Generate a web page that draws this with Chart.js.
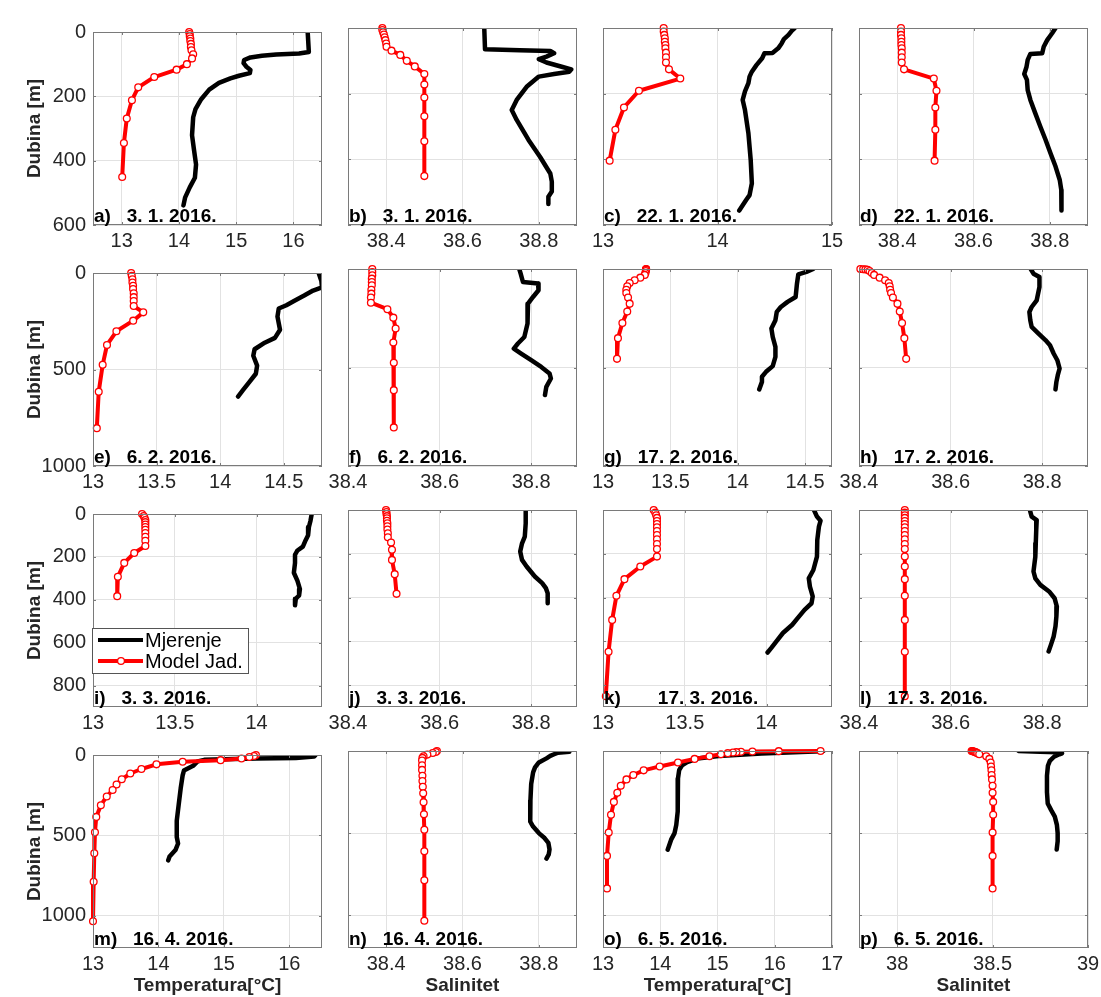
<!DOCTYPE html>
<html lang="hr">
<head>
<meta charset="UTF-8">
<title>Profili temperature i saliniteta</title>
<script src="https://cdn.jsdelivr.net/npm/chart.js@4.4.1/dist/chart.umd.min.js"></script>
<style>
  body { margin: 0; background: #fff; width: 1101px; height: 997px; overflow: hidden; position: relative; }
  canvas { position: absolute; }
</style>
</head>
<body>
<script>
// 3. 1. 2016. (a, b)
const modDepth1 = [0, 6, 13, 20, 28, 37, 47, 57, 69, 82, 100, 117, 140, 172, 212, 269, 345, 451];
const modTemp1 = [14.18, 14.19, 14.19, 14.2, 14.2, 14.21, 14.21, 14.22, 14.25, 14.23, 14.14, 13.96, 13.57, 13.29, 13.18, 13.09, 13.04, 13.01];
const modSal1 = [38.39, 38.39, 38.392, 38.394, 38.396, 38.398, 38.4, 38.401, 38.414, 38.437, 38.454, 38.475, 38.5, 38.5, 38.5, 38.5, 38.5, 38.5];
const mjTempDepth1 = [0, 62, 67, 70, 74, 79, 87, 97, 108, 118, 128, 136, 144, 158, 179, 209, 240, 265, 321, 361, 412, 453, 483, 514, 539];
const mjTemp1 = [16.25, 16.27, 16.1, 15.7, 15.45, 15.25, 15.14, 15.13, 15.18, 15.25, 15.24, 15.05, 14.9, 14.7, 14.53, 14.39, 14.29, 14.25, 14.23, 14.26, 14.3, 14.28, 14.19, 14.11, 14.08];
const mjSalDepth1 = [0, 65, 68, 70, 77, 87, 95, 105, 118, 126, 133, 140, 148, 179, 219, 250, 280, 341, 392, 443, 468, 498, 514, 536];
const mjSal1 = [38.657, 38.659, 38.75, 38.83, 38.84, 38.82, 38.8, 38.82, 38.86, 38.885, 38.88, 38.84, 38.8, 38.768, 38.742, 38.729, 38.742, 38.773, 38.803, 38.83, 38.834, 38.834, 38.825, 38.825];

// 22. 1. 2016. (c, d)
const modDepth2 = [0, 11, 21, 31, 42, 52, 62, 75, 89, 105, 126, 154, 191, 242, 310, 404];
const modTemp2 = [13.53, 13.53, 13.535, 13.54, 13.54, 13.545, 13.545, 13.55, 13.55, 13.55, 13.576, 13.675, 13.314, 13.183, 13.108, 13.058];
const modSal2 = [38.41, 38.41, 38.41, 38.411, 38.411, 38.411, 38.412, 38.412, 38.412, 38.412, 38.418, 38.496, 38.503, 38.5, 38.5, 38.498];
const mjTempDepth2 = [0, 8, 21, 34, 47, 62, 76, 77, 92, 113, 133, 148, 168, 193, 219, 250, 321, 402, 473, 509, 524, 556];
const mjTemp2 = [14.674, 14.65, 14.62, 14.58, 14.56, 14.53, 14.48, 14.41, 14.39, 14.34, 14.3, 14.28, 14.27, 14.24, 14.22, 14.24, 14.27, 14.29, 14.3, 14.28, 14.25, 14.19];
const mjSalDepth2 = [0, 16, 37, 57, 77, 79, 97, 118, 140, 158, 189, 219, 260, 300, 341, 382, 422, 463, 493, 524, 556];
const mjSal2 = [38.815, 38.806, 38.793, 38.784, 38.78, 38.749, 38.742, 38.739, 38.733, 38.74, 38.742, 38.749, 38.762, 38.775, 38.789, 38.802, 38.815, 38.826, 38.83, 38.831, 38.83];

// 6. 2. 2016. (e, f)
const modDepth3 = [0, 15, 32, 49, 66, 83, 105, 125, 145, 171, 204, 247, 302, 373, 476, 615, 804];
const modTemp3 = [13.3, 13.305, 13.31, 13.31, 13.315, 13.315, 13.32, 13.32, 13.32, 13.32, 13.395, 13.316, 13.184, 13.11, 13.076, 13.045, 13.03];
const modSal3 = [38.453, 38.453, 38.453, 38.452, 38.452, 38.452, 38.451, 38.451, 38.45, 38.45, 38.486, 38.499, 38.504, 38.499, 38.5, 38.5, 38.5];
const mjTempDepth3 = [0, 41, 74, 91, 117, 145, 167, 184, 226, 294, 336, 361, 395, 429, 480, 522, 564, 606, 640];
const mjTemp3 = [14.774, 14.795, 14.8, 14.73, 14.66, 14.58, 14.52, 14.46, 14.45, 14.47, 14.43, 14.35, 14.27, 14.26, 14.29, 14.28, 14.23, 14.18, 14.14];
const mjSalDepth3 = [0, 24, 66, 74, 108, 142, 176, 218, 277, 345, 378, 404, 429, 463, 497, 530, 556, 598, 640];
const mjSal3 = [38.774, 38.777, 38.782, 38.815, 38.816, 38.804, 38.793, 38.791, 38.793, 38.785, 38.771, 38.762, 38.778, 38.8, 38.822, 38.84, 38.843, 38.833, 38.83];

// 17. 2. 2016. (g, h)
const modDepth4 = [0, 1, 2, 4, 10, 20, 30, 44, 57, 71, 88, 105, 122, 145, 176, 216, 274, 351, 456];
const modTemp4 = [13.32, 13.32, 13.32, 13.32, 13.318, 13.315, 13.31, 13.277, 13.235, 13.198, 13.18, 13.173, 13.173, 13.186, 13.198, 13.18, 13.144, 13.111, 13.104];
const modSal4 = [38.403, 38.409, 38.414, 38.419, 38.423, 38.428, 38.433, 38.445, 38.457, 38.465, 38.467, 38.468, 38.47, 38.474, 38.484, 38.489, 38.494, 38.499, 38.503];
const mjTempDepth4 = [0, 15, 27, 74, 142, 167, 193, 218, 260, 302, 345, 395, 446, 493, 522, 547, 573, 611];
const mjTemp4 = [14.56, 14.51, 14.45, 14.44, 14.43, 14.37, 14.32, 14.29, 14.28, 14.25, 14.26, 14.28, 14.28, 14.26, 14.21, 14.18, 14.18, 14.16];
const mjSalDepth4 = [0, 24, 41, 91, 159, 193, 218, 260, 294, 328, 361, 387, 429, 463, 505, 539, 573, 611];
const mjSal4 = [38.775, 38.781, 38.794, 38.794, 38.788, 38.777, 38.772, 38.774, 38.777, 38.792, 38.807, 38.817, 38.825, 38.833, 38.838, 38.834, 38.831, 38.829];

// 3. 3. 2016. (i, j)
const modDepth5 = [0, 9, 18, 28, 38, 49, 61, 74, 89, 106, 125, 149, 182, 228, 293, 383];
const modTemp5 = [13.3, 13.31, 13.315, 13.32, 13.32, 13.32, 13.32, 13.32, 13.32, 13.32, 13.32, 13.32, 13.252, 13.191, 13.152, 13.148];
const modSal5 = [38.483, 38.484, 38.484, 38.485, 38.485, 38.485, 38.486, 38.486, 38.486, 38.487, 38.487, 38.494, 38.496, 38.496, 38.502, 38.506];
const mjTempDepth5 = [0, 30, 61, 99, 122, 152, 170, 190, 228, 274, 312, 350, 380, 395, 426];
const mjTemp5 = [14.337, 14.33, 14.32, 14.315, 14.3, 14.283, 14.25, 14.235, 14.235, 14.228, 14.25, 14.265, 14.26, 14.24, 14.235];
const mjSalDepth5 = [0, 61, 122, 152, 190, 228, 258, 304, 334, 357, 380, 426];
const mjSal5 = [38.788, 38.788, 38.786, 38.78, 38.776, 38.78, 38.79, 38.808, 38.824, 38.832, 38.836, 38.836];

// 17. 3. 2016. (k, l)
const modDepth6 = [0, 12, 24, 36, 50, 64, 79, 96, 114, 134, 155, 178, 213, 258, 316, 392, 502, 648, 851];
const modTemp6 = [13.31, 13.32, 13.325, 13.33, 13.33, 13.33, 13.33, 13.33, 13.33, 13.33, 13.33, 13.33, 13.33, 13.228, 13.131, 13.082, 13.056, 13.034, 13.017];
const modSal6 = [38.5, 38.5, 38.5, 38.5, 38.5, 38.5, 38.5, 38.5, 38.5, 38.5, 38.5, 38.5, 38.5, 38.5, 38.5, 38.5, 38.5, 38.5, 38.5];
const mjTempDepth6 = [0, 30, 49, 76, 137, 213, 274, 312, 350, 395, 426, 456, 494, 524, 562, 600, 631, 651];
const mjTemp6 = [14.29, 14.308, 14.33, 14.32, 14.31, 14.308, 14.286, 14.258, 14.265, 14.282, 14.275, 14.232, 14.19, 14.157, 14.1, 14.06, 14.028, 14.006];
const mjSalDepth6 = [0, 30, 46, 91, 152, 213, 281, 312, 342, 372, 403, 441, 486, 532, 578, 616, 646];
const mjSal6 = [38.773, 38.777, 38.788, 38.787, 38.786, 38.785, 38.781, 38.785, 38.796, 38.815, 38.827, 38.832, 38.831, 38.829, 38.825, 38.819, 38.814];

// 16. 4. 2016. (m, n)
const modDepth7 = [0, 6, 12, 22, 32, 42, 58, 87, 115, 151, 183, 218, 258, 312, 385, 480, 611, 788, 1034];
const modTemp7 = [15.49, 15.46, 15.39, 15.27, 14.95, 14.37, 13.97, 13.74, 13.57, 13.44, 13.36, 13.3, 13.21, 13.12, 13.05, 13.03, 13.02, 13.01, 13.0];
const modSal7 = [38.533, 38.53, 38.522, 38.508, 38.498, 38.495, 38.494, 38.494, 38.494, 38.495, 38.495, 38.496, 38.497, 38.498, 38.499, 38.5, 38.5, 38.5, 38.5];
const mjTempDepth7 = [0, 10, 18, 22, 26, 30, 40, 67, 97, 127, 208, 308, 409, 510, 550, 591, 631, 655];
const mjTemp7 = [16.4, 16.38, 16.1, 15.5, 15.0, 14.7, 14.6, 14.53, 14.39, 14.37, 14.34, 14.31, 14.28, 14.28, 14.3, 14.26, 14.17, 14.15];
const mjSalDepth7 = [0, 5, 10, 20, 30, 45, 70, 100, 130, 200, 300, 400, 430, 460, 500, 530, 560, 600, 630, 655];
const mjSal7 = [38.86, 38.88, 38.85, 38.84, 38.83, 38.82, 38.8, 38.79, 38.785, 38.78, 38.778, 38.777, 38.778, 38.785, 38.8, 38.815, 38.825, 38.828, 38.826, 38.82];

// 6. 5. 2016. (o, p)
const modDepth8 = [0, 1, 3, 5, 7, 9, 13, 20, 32, 48, 70, 94, 118, 146, 173, 212, 254, 310, 389, 496, 639, 837];
const modTemp8 = [16.8, 16.07, 15.61, 15.41, 15.33, 15.27, 15.18, 15.06, 14.86, 14.6, 14.31, 13.99, 13.71, 13.53, 13.41, 13.31, 13.25, 13.19, 13.14, 13.1, 13.07, 13.07];
const modSal8 = [38.39, 38.395, 38.4, 38.405, 38.41, 38.415, 38.42, 38.43, 38.467, 38.483, 38.49, 38.492, 38.494, 38.495, 38.497, 38.5, 38.5, 38.503, 38.503, 38.5, 38.5, 38.5];
const mjTempDepth8 = [0, 2, 16, 30, 46, 67, 87, 117, 167, 268, 369, 450, 500, 540, 601];
const mjTemp8 = [16.85, 16.81, 15.77, 15.02, 14.65, 14.47, 14.38, 14.33, 14.31, 14.31, 14.3, 14.28, 14.25, 14.19, 14.13];
const mjSalDepth8 = [0, 4, 8, 14, 20, 35, 60, 90, 150, 250, 320, 360, 400, 450, 500, 550, 600];
const mjSal8 = [38.636, 38.748, 38.841, 38.864, 38.85, 38.822, 38.8, 38.79, 38.785, 38.785, 38.789, 38.807, 38.826, 38.837, 38.841, 38.841, 38.836];

// panel texts and axes (a..p)
const panelLabels = [
  'a)   3. 1. 2016.', 'b)   3. 1. 2016.', 'c)   22. 1. 2016.', 'd)   22. 1. 2016.',
  'e)   6. 2. 2016.', 'f)   6. 2. 2016.', 'g)   17. 2. 2016.', 'h)   17. 2. 2016.',
  'i)   3. 3. 2016.', 'j)   3. 3. 2016.', 'k)       17. 3. 2016.', 'l)   17. 3. 2016.',
  'm)   16. 4. 2016.', 'n)   16. 4. 2016.', 'o)   6. 5. 2016.', 'p)   6. 5. 2016.'
];
const xMin = [12.5, 38.3, 13, 38.3, 13, 38.4, 13, 38.4, 13, 38.4, 13, 38.4, 13, 38.3, 13, 37.8];
const xMax = [16.5, 38.9, 15, 38.9, 14.8, 38.9, 14.7, 38.9, 14.4, 38.9, 14.4, 38.9, 16.5, 38.9, 17, 39];
const tempTicksA = [13, 14, 15, 16];
const tempTicksC = [13, 14, 15];
const tempTicksE = [13, 13.5, 14, 14.5];
const tempTicksI = [13, 13.5, 14];
const tempTicksO = [13, 14, 15, 16, 17];
const salTicks = [38.4, 38.6, 38.8];
const salTicksP = [38, 38.5, 39];
const xTicks = [
  tempTicksA, salTicks, tempTicksC, salTicks,
  tempTicksE, salTicks, tempTicksE, salTicks,
  tempTicksI, salTicks, tempTicksI, salTicks,
  tempTicksA, salTicks, tempTicksO, salTicksP
];
const depthMax = [600, 1000, 900, 1200];
const depthTicks = [[0, 200, 400, 600], [0, 500, 1000], [0, 200, 400, 600, 800], [0, 500, 1000]];
const legendLabels = ['Mjerenje', 'Model Jad.'];

const mjDepths = [mjTempDepth1, mjSalDepth1, mjTempDepth2, mjSalDepth2, mjTempDepth3, mjSalDepth3, mjTempDepth4, mjSalDepth4,
                  mjTempDepth5, mjSalDepth5, mjTempDepth6, mjSalDepth6, mjTempDepth7, mjSalDepth7, mjTempDepth8, mjSalDepth8];
const mjValues = [mjTemp1, mjSal1, mjTemp2, mjSal2, mjTemp3, mjSal3, mjTemp4, mjSal4,
                  mjTemp5, mjSal5, mjTemp6, mjSal6, mjTemp7, mjSal7, mjTemp8, mjSal8];
const modDepths = [modDepth1, modDepth1, modDepth2, modDepth2, modDepth3, modDepth3, modDepth4, modDepth4,
                   modDepth5, modDepth5, modDepth6, modDepth6, modDepth7, modDepth7, modDepth8, modDepth8];
const modValues = [modTemp1, modSal1, modTemp2, modSal2, modTemp3, modSal3, modTemp4, modSal4,
                   modTemp5, modSal5, modTemp6, modSal6, modTemp7, modSal7, modTemp8, modSal8];

// layout
const FONT = "'Liberation Sans', Arial, Helvetica, sans-serif";
const colLeft = [93, 348, 603, 859];
const rowTop = [28, 269, 510, 751];
const plotW = 229, plotH = 197;
const padT = 15, padR = 25;
const boxColor = '#7a7a7a';
const gridColor = '#e2e2e2';

Chart.defaults.font.family = FONT;

const framePlugin = {
  id: 'frame',
  afterDraw(chart, args, opts) {
    const { ctx, chartArea: a, scales: { x, y } } = chart;
    ctx.save();
    ctx.strokeStyle = boxColor;
    ctx.lineWidth = 1;
    ctx.strokeRect(a.left + 0.5, a.top + 0.5, a.right - a.left - 1, a.bottom - a.top - 1);
    ctx.beginPath();
    x.ticks.forEach(t => {
      const px = Math.round(x.getPixelForValue(t.value)) + 0.5;
      ctx.moveTo(px, a.bottom); ctx.lineTo(px, a.bottom - 3);
      ctx.moveTo(px, a.top); ctx.lineTo(px, a.top + 3);
    });
    y.ticks.forEach(t => {
      const py = Math.round(y.getPixelForValue(t.value)) + 0.5;
      ctx.moveTo(a.left, py); ctx.lineTo(a.left + 3, py);
      ctx.moveTo(a.right, py); ctx.lineTo(a.right - 3, py);
    });
    ctx.stroke();

    // panel label
    ctx.fillStyle = '#000';
    ctx.font = 'bold 19px ' + FONT;
    ctx.textBaseline = 'alphabetic';
    ctx.textAlign = 'left';
    ctx.fillText(opts.label, a.left + 1, a.bottom - 3);

    if (opts.legend) {
      const lx = a.left - 1, ly = a.top + 114, lw = 156, lh = 45;
      ctx.fillStyle = '#fff';
      ctx.fillRect(lx, ly, lw, lh);
      ctx.strokeStyle = '#555';
      ctx.lineWidth = 1;
      ctx.strokeRect(lx + 0.5, ly + 0.5, lw, lh);
      const colors = ['#000', '#ff0000'];
      legendLabels.forEach((txt, k) => {
        const cy = ly + 12 + k * 21;
        ctx.strokeStyle = colors[k];
        ctx.lineWidth = 4;
        ctx.beginPath(); ctx.moveTo(lx + 6, cy); ctx.lineTo(lx + 51, cy); ctx.stroke();
        if (k === 1) {
          ctx.beginPath(); ctx.arc(lx + 29, cy, 3.4, 0, Math.PI * 2);
          ctx.fillStyle = '#fff'; ctx.fill();
          ctx.lineWidth = 1.3; ctx.strokeStyle = colors[k]; ctx.stroke();
        }
        ctx.fillStyle = '#000';
        ctx.font = '20px ' + FONT;
        ctx.textBaseline = 'middle';
        ctx.fillText(txt, lx + 53, cy + 1);
      });
    }
    ctx.restore();
  }
};

function pts(vals, depths) {
  return vals.map((v, k) => ({ x: v, y: depths[k] }));
}

for (let i = 0; i < 16; i++) {
  const row = Math.floor(i / 4), col = i % 4;
  const padL = col === 0 ? 93 : 25;
  const padB = row === 3 ? 49 : 34;
  const canvas = document.createElement('canvas');
  canvas.width = padL + plotW + padR;
  canvas.height = padT + plotH + padB;
  canvas.style.left = (colLeft[col] - padL) + 'px';
  canvas.style.top = (rowTop[row] - padT) + 'px';
  document.body.appendChild(canvas);

  const isTemp = col % 2 === 0;
  new Chart(canvas, {
    type: 'scatter',
    data: {
      datasets: [
        {
          label: legendLabels[1],
          data: pts(modValues[i], modDepths[i]),
          showLine: true,
          borderColor: '#ff0000',
          borderWidth: 4,
          borderJoinStyle: 'round',
          pointRadius: 3.4,
          pointBorderWidth: 1.3,
          pointBorderColor: '#ff0000',
          pointBackgroundColor: '#ffffff',
          clip: false
        },
        {
          label: legendLabels[0],
          data: pts(mjValues[i], mjDepths[i]),
          showLine: true,
          borderColor: '#000000',
          borderWidth: 4.5,
          borderJoinStyle: 'round',
          borderCapStyle: 'round',
          pointRadius: 0
        }
      ]
    },
    options: {
      responsive: false,
      animation: false,
      devicePixelRatio: 1,
      events: [],
      layout: { padding: { top: padT, right: padR, left: 0, bottom: 0 } },
      plugins: {
        legend: { display: false },
        tooltip: { enabled: false },
        frame: { label: panelLabels[i], legend: i === 8 }
      },
      scales: {
        x: {
          type: 'linear',
          position: 'bottom',
          min: xMin[i],
          max: xMax[i],
          afterBuildTicks: s => { s.ticks = xTicks[i].map(v => ({ value: v })); },
          afterFit: s => { s.height = padB; },
          grid: { color: gridColor, drawTicks: false },
          border: { display: false },
          ticks: {
            color: '#262626', font: { size: 20 }, padding: 4,
            autoSkip: false, maxRotation: 0,
            callback: v => String(v)
          },
          title: {
            display: row === 3,
            text: isTemp ? 'Temperatura[°C]' : 'Salinitet',
            color: '#262626',
            font: { size: 19, weight: 'bold' },
            padding: { top: 0, bottom: 0 }
          }
        },
        y: {
          type: 'linear',
          reverse: true,
          min: 0,
          max: depthMax[row],
          afterBuildTicks: s => { s.ticks = depthTicks[row].map(v => ({ value: v })); },
          afterFit: s => { s.width = padL; },
          grid: { color: gridColor, drawTicks: false },
          border: { display: false },
          ticks: {
            display: col === 0,
            color: '#262626', font: { size: 20 }, padding: 7,
            callback: v => String(v)
          },
          title: {
            display: col === 0,
            text: 'Dubina [m]',
            color: '#262626',
            font: { size: 19, weight: 'bold' },
            padding: { top: 23, bottom: 0 }
          }
        }
      }
    },
    plugins: [framePlugin]
  });
}
</script>
</body>
</html>
